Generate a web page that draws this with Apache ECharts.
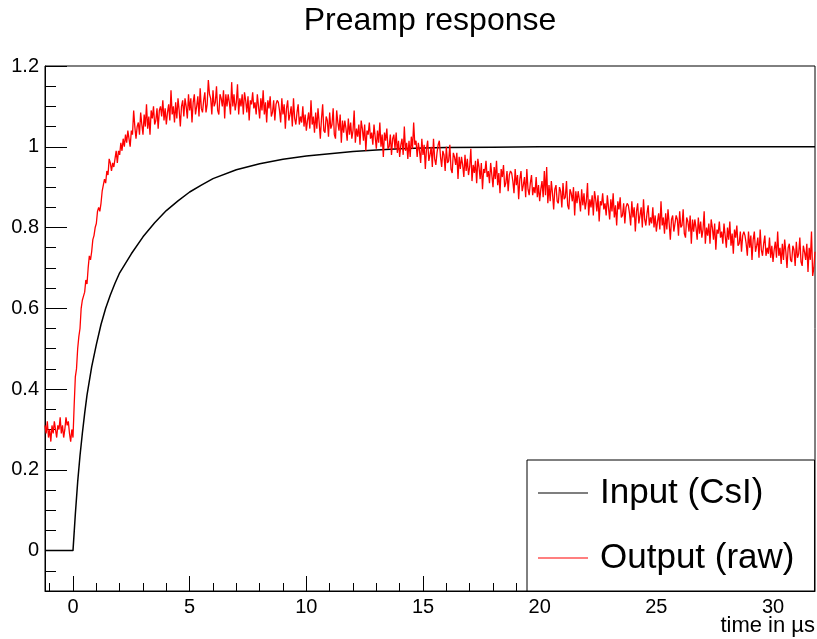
<!DOCTYPE html>
<html><head><meta charset="utf-8">
<script src="https://cdn.jsdelivr.net/npm/echarts@6/dist/echarts.min.js"></script>
<style>html,body{margin:0;padding:0;background:#fff}#c{width:817px;height:639px}</style>
</head><body><div id="c"></div>
<script>
const chartTitle = 'Preamp response';
const xAxisName = 'time in µs';
const seriesNames = ['Input (CsI)', 'Output (raw)'];
const xMajorTicks = [0, 5, 10, 15, 20, 25, 30];
const xMinorTicks = [-1, 0, 1, 2, 3, 4, 5, 6, 7, 8, 9, 10, 11, 12, 13, 14, 15, 16, 17, 18, 19, 20, 21, 22, 23, 24, 25, 26, 27, 28, 29, 30, 31];
const yMajorTicks = [0, 0.2, 0.4, 0.6, 0.8, 1, 1.2];
const yMinorTicks = [-0.05, 0.05, 0.1, 0.15, 0.25, 0.3, 0.35, 0.45, 0.5, 0.55, 0.65, 0.7, 0.75, 0.85, 0.9, 0.95, 1.05, 1.1, 1.15];

// Input (CsI) curve
const inputTime = [-1.2, 0, 0.1, 0.2, 0.3, 0.4, 0.5, 0.6, 0.8, 1.0, 1.2, 1.4, 1.6, 1.8, 2.0, 2.5, 3.0, 3.5, 4.0, 4.5, 5.0, 5.5, 6.0, 7.0, 8.0, 9.0, 10.0, 11.0, 12.0, 13.0, 14.0, 15.0, 16.0, 18.0, 20.0, 25.0, 31.8];
const inputValues = [0, 0, 0.09, 0.17, 0.235, 0.29, 0.34, 0.385, 0.455, 0.51, 0.56, 0.6, 0.633, 0.662, 0.688, 0.735, 0.777, 0.812, 0.842, 0.866, 0.888, 0.905, 0.921, 0.943, 0.958, 0.969, 0.977, 0.983, 0.988, 0.992, 0.995, 0.997, 0.998, 0.999, 1.0, 1.0, 1.0];

// Output (raw) samples, every 0.05 µs starting at -1.2 µs (20 per row = 1 µs)
const outputStart = -1.2;
const outputStep = 0.05;
const outputValues = [
0.31, 0.29, 0.32, 0.28, 0.30, 0.27, 0.31, 0.29, 0.32, 0.30, 0.28, 0.31, 0.30, 0.33, 0.29, 0.31, 0.28, 0.30, 0.33, 0.31,
0.32, 0.29, 0.27, 0.30, 0.28, 0.36, 0.43, 0.45, 0.50, 0.53, 0.55, 0.60, 0.62, 0.63, 0.64, 0.67, 0.66, 0.70, 0.73, 0.72,
0.74, 0.77, 0.78, 0.80, 0.81, 0.84, 0.85, 0.84, 0.86, 0.89, 0.89, 0.92, 0.91, 0.94, 0.93, 0.97, 0.96, 0.94, 0.96, 0.95,
0.97, 0.99, 0.96, 0.99, 0.98, 1.01, 0.99, 1.02, 1.00, 1.03, 1.01, 1.04, 1.02, 1.00, 1.04, 1.03, 1.09, 1.05, 1.02, 1.05,
1.06, 1.03, 1.085, 1.055, 1.03, 1.08, 1.05, 1.105, 1.045, 1.075, 1.03, 1.09, 1.07, 1.10, 1.055, 1.065, 1.095, 1.045, 1.09, 1.10,
1.075, 1.115, 1.065, 1.095, 1.055, 1.085, 1.105, 1.065, 1.14, 1.08, 1.10, 1.06, 1.11, 1.07, 1.12, 1.09, 1.05, 1.10, 1.115, 1.075,
1.12, 1.10, 1.07, 1.13, 1.09, 1.12, 1.06, 1.11, 1.13, 1.08, 1.10, 1.125, 1.075, 1.145, 1.095, 1.085, 1.115, 1.135, 1.085, 1.105,
1.165, 1.13, 1.12, 1.08, 1.14, 1.10, 1.11, 1.15, 1.09, 1.08, 1.13, 1.12, 1.10, 1.14, 1.07, 1.13, 1.10, 1.13, 1.11, 1.08,
1.16, 1.10, 1.13, 1.09, 1.11, 1.155, 1.08, 1.12, 1.10, 1.13, 1.08, 1.135, 1.115, 1.085, 1.125, 1.065, 1.115, 1.105, 1.135, 1.095,
1.11, 1.08, 1.13, 1.10, 1.07, 1.12, 1.09, 1.14, 1.08, 1.11, 1.06, 1.115, 1.095, 1.125, 1.075, 1.085, 1.115, 1.065, 1.105, 1.115,
1.11, 1.09, 1.06, 1.12, 1.08, 1.105, 1.045, 1.095, 1.115, 1.065, 1.08, 1.10, 1.05, 1.12, 1.07, 1.055, 1.085, 1.105, 1.055, 1.075,
1.06, 1.10, 1.05, 1.08, 1.04, 1.065, 1.085, 1.045, 1.115, 1.055, 1.075, 1.035, 1.085, 1.045, 1.095, 1.06, 1.02, 1.07, 1.105, 1.04,
1.035, 1.075, 1.065, 1.025, 1.085, 1.045, 1.055, 1.095, 1.03, 1.02, 1.09, 1.06, 1.04, 1.08, 1.01, 1.065, 1.035, 1.065, 1.045, 1.015,
1.07, 1.03, 1.06, 1.02, 1.04, 1.09, 1.01, 1.045, 1.025, 1.055, 1.005, 1.065, 1.045, 1.015, 1.055, 0.99, 1.04, 1.03, 1.06, 1.02,
1.035, 1.005, 1.055, 1.025, 0.995, 1.04, 1.01, 1.06, 1.00, 1.03, 0.975, 1.035, 1.015, 1.045, 0.995, 1.00, 1.03, 0.98, 1.02, 1.03,
0.995, 1.035, 0.985, 1.015, 0.975, 1.005, 1.02, 0.98, 1.05, 0.99, 1.01, 0.97, 1.015, 0.975, 1.025, 0.995, 1.06, 1.005, 1.015, 0.975,
1.01, 0.99, 0.96, 1.02, 0.98, 1.005, 0.945, 0.995, 1.015, 0.965, 0.98, 1.00, 0.95, 1.02, 0.97, 0.955, 0.985, 1.005, 1.015, 0.975,
0.95, 0.99, 0.98, 0.94, 1.00, 0.96, 0.965, 1.005, 0.945, 0.935, 0.985, 0.975, 0.955, 0.985, 0.92, 0.975, 0.945, 0.975, 0.955, 0.925,
0.98, 0.94, 0.97, 0.93, 0.95, 0.995, 0.915, 0.955, 0.935, 0.965, 0.91, 0.97, 0.95, 0.92, 0.96, 0.895, 0.945, 0.935, 0.965, 0.925,
0.94, 0.91, 0.96, 0.93, 0.90, 0.95, 0.92, 0.965, 0.905, 0.935, 0.885, 0.945, 0.925, 0.955, 0.90, 0.91, 0.94, 0.89, 0.93, 0.94,
0.935, 0.915, 0.885, 0.945, 0.905, 0.93, 0.87, 0.92, 0.94, 0.89, 0.905, 0.925, 0.875, 0.945, 0.895, 0.88, 0.91, 0.93, 0.88, 0.90,
0.885, 0.925, 0.875, 0.905, 0.865, 0.895, 0.915, 0.875, 0.94, 0.88, 0.95, 0.86, 0.905, 0.865, 0.915, 0.885, 0.845, 0.895, 0.905, 0.865,
0.86, 0.90, 0.89, 0.85, 0.91, 0.87, 0.875, 0.915, 0.855, 0.845, 0.895, 0.885, 0.865, 0.90, 0.83, 0.89, 0.86, 0.89, 0.87, 0.84,
0.895, 0.855, 0.885, 0.845, 0.865, 0.91, 0.83, 0.87, 0.85, 0.88, 0.83, 0.89, 0.87, 0.84, 0.88, 0.815, 0.865, 0.855, 0.885, 0.845,
0.86, 0.83, 0.88, 0.85, 0.82, 0.87, 0.84, 0.885, 0.825, 0.855, 0.805, 0.865, 0.845, 0.875, 0.825, 0.83, 0.86, 0.81, 0.85, 0.86,
0.855, 0.835, 0.805, 0.865, 0.825, 0.85, 0.79, 0.84, 0.86, 0.81, 0.83, 0.85, 0.80, 0.87, 0.82, 0.805, 0.835, 0.855, 0.805, 0.825,
0.81, 0.85, 0.80, 0.83, 0.79, 0.815, 0.835, 0.795, 0.865, 0.805, 0.825, 0.785, 0.835, 0.795, 0.845, 0.81, 0.77, 0.82, 0.83, 0.79,
0.79, 0.83, 0.82, 0.78, 0.84, 0.80, 0.805, 0.845, 0.785, 0.775, 0.825, 0.815, 0.79, 0.83, 0.76, 0.82, 0.79, 0.82, 0.80, 0.77,
0.825, 0.785, 0.815, 0.775, 0.795, 0.84, 0.76, 0.80, 0.78, 0.81, 0.76, 0.82, 0.80, 0.77, 0.81, 0.745, 0.795, 0.785, 0.815, 0.775,
0.79, 0.76, 0.81, 0.78, 0.75, 0.80, 0.77, 0.815, 0.755, 0.785, 0.735, 0.795, 0.775, 0.805, 0.755, 0.76, 0.79, 0.74, 0.78, 0.79,
0.78, 0.76, 0.73, 0.79, 0.75, 0.78, 0.72, 0.77, 0.79, 0.74, 0.755, 0.775, 0.725, 0.795, 0.745, 0.73, 0.76, 0.78, 0.73, 0.75,
0.735, 0.775, 0.725, 0.755, 0.715, 0.745, 0.765, 0.725, 0.79, 0.73, 0.75, 0.71, 0.76, 0.72, 0.77, 0.74, 0.70, 0.75, 0.76, 0.72,
0.715, 0.755, 0.745, 0.705, 0.765, 0.725, 0.735, 0.775, 0.715, 0.705, 0.755, 0.74, 0.72, 0.76, 0.69, 0.75, 0.72, 0.79, 0.68, 0.70,
0.74
];

const FONT = "'Liberation Sans', Arial, Helvetica, sans-serif";
const inputData = inputTime.map((t, i) => [t, inputValues[i]]);
const outputData = outputValues.map((v, i) => [Math.round((outputStart + i * outputStep) * 100) / 100, v]);

const chart = echarts.init(document.getElementById('c'), null, {renderer: 'canvas'});
const xMin = -1.2, xMax = 31.8, yMin = -0.1, yMax = 1.2;
chart.setOption({
  animation: false,
  backgroundColor: '#fff',
  textStyle: {fontFamily: FONT, color: '#000'},
  title: {
    text: chartTitle, left: 430, top: 5, textAlign: 'center', padding: 0,
    textStyle: {fontSize: 32, fontWeight: 'normal', color: '#000', fontFamily: FONT}
  },
  grid: {left: 45, top: 66, width: 770, height: 525, show: true, borderColor: '#000', borderWidth: 1,
         backgroundColor: 'transparent', containLabel: false, outerBoundsMode: 'none'},
  legend: {
    orient: 'vertical', left: 527, top: 460, padding: [13, 20, 13, 11], itemGap: 25,
    itemWidth: 50, itemHeight: 1, icon: 'rect', borderColor: '#000', borderWidth: 1, borderRadius: 0,
    backgroundColor: '#fff', data: seriesNames,
    textStyle: {fontSize: 35, lineHeight: 40, color: '#000', fontFamily: FONT, padding: [0, 0, 0, 7]}
  },
  graphic: [{
    type: 'text', right: 2, top: 615, z: 10,
    style: {text: xAxisName, fill: '#000', font: '22px ' + FONT}
  }],
  xAxis: [
    {
      type: 'value', min: xMin, max: xMax, position: 'bottom',
      axisLine: {show: true, onZero: false, lineStyle: {color: '#000', width: 1}},
      axisTick: {show: true, inside: true, length: 15, customValues: xMajorTicks, lineStyle: {color: '#000', width: 1}},
      axisLabel: {customValues: xMajorTicks, fontSize: 20, color: '#000', margin: 6, fontFamily: FONT},
      splitLine: {show: false}
    },
    {
      type: 'value', min: xMin, max: xMax, position: 'bottom', offset: 0,
      axisLine: {show: false, onZero: false},
      axisTick: {show: true, inside: true, length: 8, customValues: xMinorTicks, lineStyle: {color: '#000', width: 1}},
      axisLabel: {show: false}, splitLine: {show: false}
    }
  ],
  yAxis: [
    {
      type: 'value', min: yMin, max: yMax, position: 'left',
      axisLine: {show: true, onZero: false, lineStyle: {color: '#000', width: 1}},
      axisTick: {show: true, inside: true, length: 22, customValues: yMajorTicks, lineStyle: {color: '#000', width: 1}},
      axisLabel: {customValues: yMajorTicks, fontSize: 20, color: '#000', margin: 6, fontFamily: FONT},
      splitLine: {show: false}
    },
    {
      type: 'value', min: yMin, max: yMax, position: 'left', offset: 0,
      axisLine: {show: false, onZero: false},
      axisTick: {show: true, inside: true, length: 11, customValues: yMinorTicks, lineStyle: {color: '#000', width: 1}},
      axisLabel: {show: false}, splitLine: {show: false}
    }
  ],
  series: [
    {
      name: seriesNames[0], type: 'line', data: inputData, xAxisIndex: 0, yAxisIndex: 0,
      symbol: 'none', showSymbol: false, smooth: false,
      lineStyle: {color: '#000', width: 1.5}, itemStyle: {color: '#000'}
    },
    {
      name: seriesNames[1], type: 'line', data: outputData, xAxisIndex: 0, yAxisIndex: 0,
      symbol: 'none', showSymbol: false, smooth: false,
      lineStyle: {color: '#ff0000', width: 1.3}, itemStyle: {color: '#ff0000'}
    }
  ]
});
</script>
</body></html>
